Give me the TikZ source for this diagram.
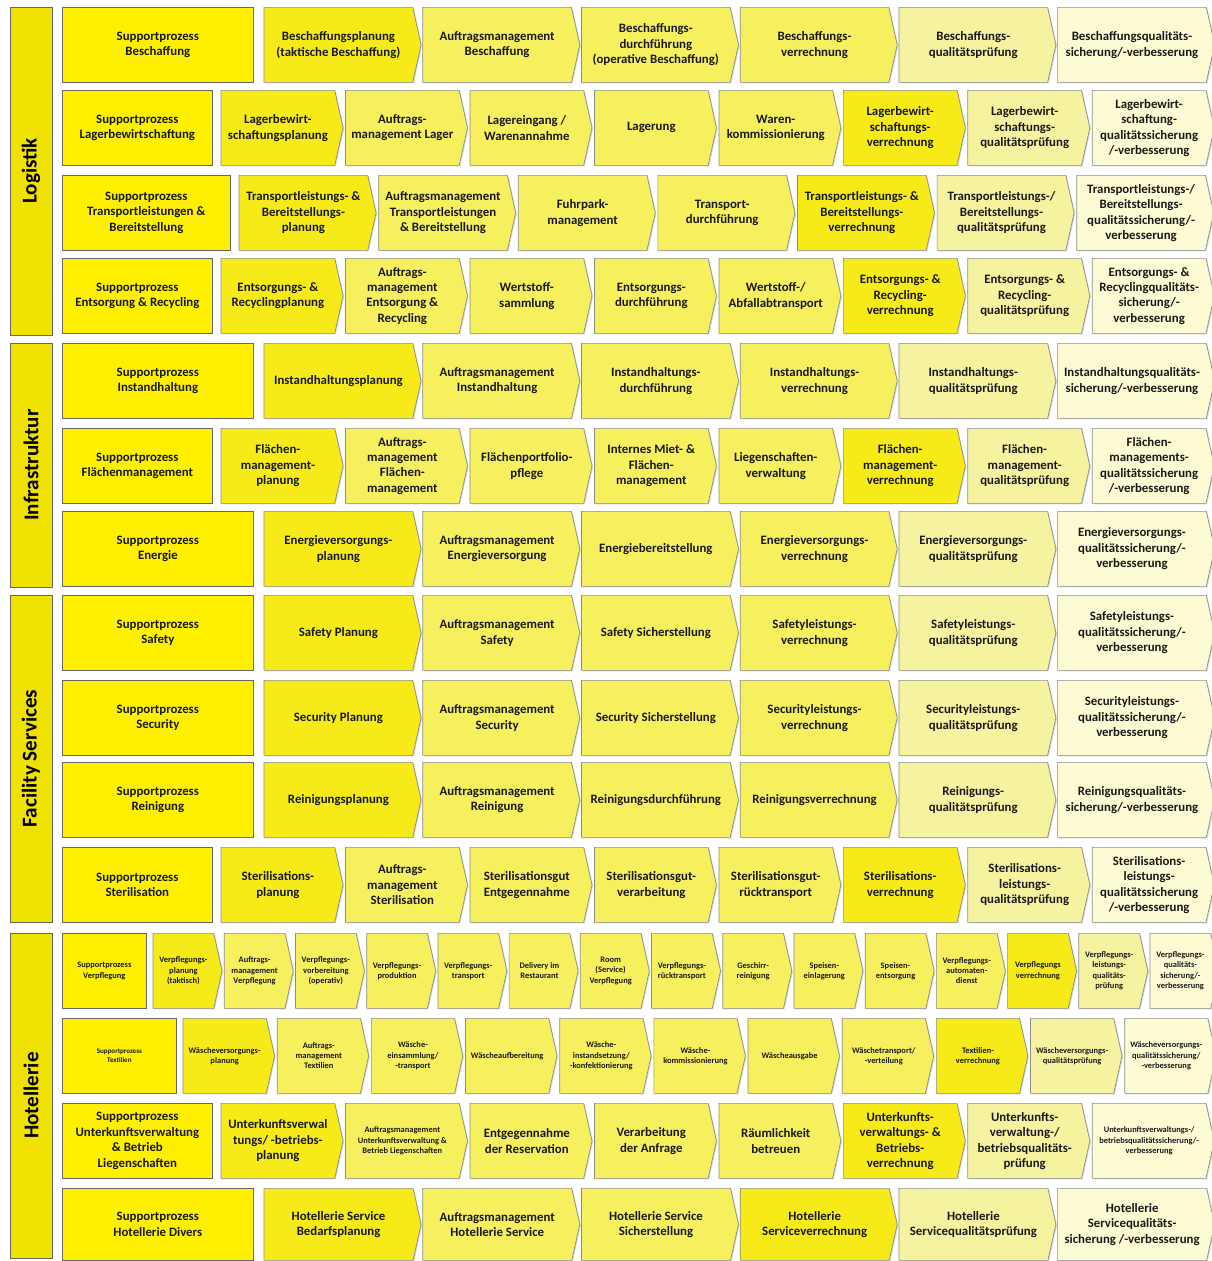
\documentclass[tikz,border=0pt]{standalone}
\usepackage{fontspec}
\setmainfont{Carlito}
\usetikzlibrary{shapes.symbols, positioning, shadows}
\definecolor{suppyellow}{RGB}{255,240,0}
\definecolor{baryellow}{RGB}{240,226,0}
\definecolor{planyellow}{RGB}{246,235,25}
\definecolor{runyellow}{RGB}{246,240,95}
\definecolor{checkyellow}{RGB}{246,243,160}
\definecolor{actyellow}{RGB}{253,251,212}
\newcommand{\boxfont}{\fontsize{7.3}{8.8}\selectfont\bfseries}
\newcommand{\smallboxfont}{\fontsize{4.8}{5.8}\selectfont\bfseries}
\newcommand{\tinyboxfont}{\fontsize{4}{5}\selectfont\bfseries}
\tikzstyle{bar} = [rectangle, rotate=90, minimum height=0.84cm, draw=black!60, fill=baryellow, font=\fontsize{12}{14}\selectfont\bfseries, drop shadow={shadow xshift=0.6pt, shadow yshift=-0.6pt, opacity=0.35}]
\tikzstyle{support} = [rectangle, minimum height=1.5cm, inner sep=1pt, align=center, draw=black!60, fill=suppyellow, text=black!90, font=\boxfont, anchor=north west, drop shadow={shadow xshift=0.6pt, shadow yshift=-0.6pt, opacity=0.35}]
\tikzstyle{chevron} = [signal, signal to=east, signal pointer angle=155, minimum height=1.5cm, inner sep=1pt, align=center, draw=black!45, text=black!90, font=\boxfont, drop shadow={shadow xshift=0.6pt, shadow yshift=-0.6pt, opacity=0.3}]
\tikzstyle{planfill} = [fill=planyellow]
\tikzstyle{runfill} = [fill=runyellow]
\tikzstyle{checkfill} = [fill=checkyellow]
\tikzstyle{actfill} = [fill=actyellow]
\tikzstyle{w6} = [minimum width=3.14cm]
\tikzstyle{w7} = [minimum width=2.74cm]
\tikzstyle{w8} = [minimum width=2.44cm]
\tikzstyle{w11} = [minimum width=1.83cm]
\tikzstyle{w15} = [minimum width=1.38cm]

\begin{document}
\begin{tikzpicture}
\useasboundingbox[fill=white] (0,0) rectangle (24.24,-25.22);

\node (logistik) [bar, minimum width=6.56cm] at (0.62,-3.42) {Logistik};
\node (infra) [bar, minimum width=4.88cm] at (0.62,-9.30) {Infrastruktur};
\node (facility) [bar, minimum width=6.54cm] at (0.62,-15.17) {Facility Services};
\node (hotel) [bar, minimum width=6.50cm] at (0.62,-21.91) {Hotellerie};

\node (sB) [support, minimum width=3.82cm] at (1.24,-0.14) {Supportprozess\\Beschaffung};
\node (B1) [chevron, w6, planfill, right=0.2cm of sB] {Beschaffungsplanung\\(taktische Beschaffung)};
\node (B2) [chevron, w6, runfill, right=0.02cm of B1] {Auftragsmanagement\\Beschaffung};
\node (B3) [chevron, w6, runfill, right=0.02cm of B2] {Beschaffungs-\\durchführung\\(operative Beschaffung)};
\node (B4) [chevron, w6, runfill, right=0.02cm of B3] {Beschaffungs-\\verrechnung};
\node (B5) [chevron, w6, checkfill, right=0.02cm of B4] {Beschaffungs-\\qualitätsprüfung};
\node (B6) [chevron, w6, actfill, right=0.02cm of B5] {Beschaffungsqualitäts-\\sicherung/-verbesserung};

\node (sL) [support, minimum width=3.0cm] at (1.24,-1.80) {Supportprozess\\Lagerbewirtschaftung};
\node (L1) [chevron, w8, planfill, right=0.16cm of sL] {Lagerbewirt-\\schaftungsplanung};
\node (L2) [chevron, w8, runfill, right=0.035cm of L1] {Auftrags-\\management Lager};
\node (L3) [chevron, w8, runfill, right=0.035cm of L2] {Lagereingang /\\Warenannahme};
\node (L4) [chevron, w8, runfill, right=0.035cm of L3] {Lagerung};
\node (L5) [chevron, w8, runfill, right=0.035cm of L4] {Waren-\\kommissionierung};
\node (L6) [chevron, w8, planfill, right=0.035cm of L5] {Lagerbewirt-\\schaftungs-\\verrechnung};
\node (L7) [chevron, w8, checkfill, right=0.035cm of L6] {Lagerbewirt-\\schaftungs-\\qualitätsprüfung};
\node (L8) [chevron, w8, actfill, right=0.035cm of L7] {Lagerbewirt-\\schaftung-\\qualitätssicherung\\/-verbesserung};

\node (sT) [support, minimum width=3.36cm] at (1.24,-3.50) {Supportprozess\\Transportleistungen \&\\Bereitstellung};
\node (T1) [chevron, w7, planfill, right=0.16cm of sT] {Transportleistungs- \&\\Bereitstellungs-\\planung};
\node (T2) [chevron, w7, runfill, right=0.038cm of T1] {Auftragsmanagement\\Transportleistungen\\\& Bereitstellung};
\node (T3) [chevron, w7, runfill, right=0.038cm of T2] {Fuhrpark-\\management};
\node (T4) [chevron, w7, runfill, right=0.038cm of T3] {Transport-\\durchführung};
\node (T5) [chevron, w7, planfill, right=0.038cm of T4] {Transportleistungs- \&\\Bereitstellungs-\\verrechnung};
\node (T6) [chevron, w7, checkfill, right=0.038cm of T5] {Transportleistungs-/\\Bereitstellungs-\\qualitätsprüfung};
\node (T7) [chevron, w7, actfill, right=0.038cm of T6] {Transportleistungs-/\\Bereitstellungs-\\qualitätssicherung/-\\verbesserung};

\node (sE) [support, minimum width=3.0cm] at (1.24,-5.16) {Supportprozess\\Entsorgung \& Recycling};
\node (E1) [chevron, w8, planfill, right=0.16cm of sE] {Entsorgungs- \&\\Recyclingplanung};
\node (E2) [chevron, w8, runfill, right=0.035cm of E1] {Auftrags-\\management\\Entsorgung \&\\Recycling};
\node (E3) [chevron, w8, runfill, right=0.035cm of E2] {Wertstoff-\\sammlung};
\node (E4) [chevron, w8, runfill, right=0.035cm of E3] {Entsorgungs-\\durchführung};
\node (E5) [chevron, w8, runfill, right=0.035cm of E4] {Wertstoff-/\\Abfallabtransport};
\node (E6) [chevron, w8, planfill, right=0.035cm of E5] {Entsorgungs- \&\\Recycling-\\verrechnung};
\node (E7) [chevron, w8, checkfill, right=0.035cm of E6] {Entsorgungs- \&\\Recycling-\\qualitätsprüfung};
\node (E8) [chevron, w8, actfill, right=0.035cm of E7] {Entsorgungs- \&\\Recyclingqualitäts-\\sicherung/-\\verbesserung};

\node (sI) [support, minimum width=3.82cm] at (1.24,-6.86) {Supportprozess\\Instandhaltung};
\node (I1) [chevron, w6, planfill, right=0.2cm of sI] {Instandhaltungsplanung};
\node (I2) [chevron, w6, runfill, right=0.02cm of I1] {Auftragsmanagement\\Instandhaltung};
\node (I3) [chevron, w6, runfill, right=0.02cm of I2] {Instandhaltungs-\\durchführung};
\node (I4) [chevron, w6, runfill, right=0.02cm of I3] {Instandhaltungs-\\verrechnung};
\node (I5) [chevron, w6, checkfill, right=0.02cm of I4] {Instandhaltungs-\\qualitätsprüfung};
\node (I6) [chevron, w6, actfill, right=0.02cm of I5] {Instandhaltungsqualitäts-\\sicherung/-verbesserung};

\node (sF) [support, minimum width=3.0cm] at (1.24,-8.56) {Supportprozess\\Flächenmanagement};
\node (F1) [chevron, w8, planfill, right=0.16cm of sF] {Flächen-\\management-\\planung};
\node (F2) [chevron, w8, runfill, right=0.035cm of F1] {Auftrags-\\management\\Flächen-\\management};
\node (F3) [chevron, w8, runfill, right=0.035cm of F2] {Flächenportfolio-\\pflege};
\node (F4) [chevron, w8, runfill, right=0.035cm of F3] {Internes Miet- \&\\Flächen-\\management};
\node (F5) [chevron, w8, runfill, right=0.035cm of F4] {Liegenschaften-\\verwaltung};
\node (F6) [chevron, w8, planfill, right=0.035cm of F5] {Flächen-\\management-\\verrechnung};
\node (F7) [chevron, w8, checkfill, right=0.035cm of F6] {Flächen-\\management-\\qualitätsprüfung};
\node (F8) [chevron, w8, actfill, right=0.035cm of F7] {Flächen-\\managements-\\qualitätssicherung\\/-verbesserung};

\node (sN) [support, minimum width=3.82cm] at (1.24,-10.22) {Supportprozess\\Energie};
\node (N1) [chevron, w6, planfill, right=0.2cm of sN] {Energieversorgungs-\\planung};
\node (N2) [chevron, w6, runfill, right=0.02cm of N1] {Auftragsmanagement\\Energieversorgung};
\node (N3) [chevron, w6, runfill, right=0.02cm of N2] {Energiebereitstellung};
\node (N4) [chevron, w6, runfill, right=0.02cm of N3] {Energieversorgungs-\\verrechnung};
\node (N5) [chevron, w6, checkfill, right=0.02cm of N4] {Energieversorgungs-\\qualitätsprüfung};
\node (N6) [chevron, w6, actfill, right=0.02cm of N5] {Energieversorgungs-\\qualitätssicherung/-\\verbesserung};

\node (sSa) [support, minimum width=3.82cm] at (1.24,-11.90) {Supportprozess\\Safety};
\node (Sa1) [chevron, w6, planfill, right=0.2cm of sSa] {Safety Planung};
\node (Sa2) [chevron, w6, runfill, right=0.02cm of Sa1] {Auftragsmanagement\\Safety};
\node (Sa3) [chevron, w6, runfill, right=0.02cm of Sa2] {Safety Sicherstellung};
\node (Sa4) [chevron, w6, runfill, right=0.02cm of Sa3] {Safetyleistungs-\\verrechnung};
\node (Sa5) [chevron, w6, checkfill, right=0.02cm of Sa4] {Safetyleistungs-\\qualitätsprüfung};
\node (Sa6) [chevron, w6, actfill, right=0.02cm of Sa5] {Safetyleistungs-\\qualitätssicherung/-\\verbesserung};

\node (sSe) [support, minimum width=3.82cm] at (1.24,-13.60) {Supportprozess\\Security};
\node (Se1) [chevron, w6, planfill, right=0.2cm of sSe] {Security Planung};
\node (Se2) [chevron, w6, runfill, right=0.02cm of Se1] {Auftragsmanagement\\Security};
\node (Se3) [chevron, w6, runfill, right=0.02cm of Se2] {Security Sicherstellung};
\node (Se4) [chevron, w6, runfill, right=0.02cm of Se3] {Securityleistungs-\\verrechnung};
\node (Se5) [chevron, w6, checkfill, right=0.02cm of Se4] {Securityleistungs-\\qualitätsprüfung};
\node (Se6) [chevron, w6, actfill, right=0.02cm of Se5] {Securityleistungs-\\qualitätssicherung/-\\verbesserung};

\node (sR) [support, minimum width=3.82cm] at (1.24,-15.24) {Supportprozess\\Reinigung};
\node (R1) [chevron, w6, planfill, right=0.2cm of sR] {Reinigungsplanung};
\node (R2) [chevron, w6, runfill, right=0.02cm of R1] {Auftragsmanagement\\Reinigung};
\node (R3) [chevron, w6, runfill, right=0.02cm of R2] {Reinigungsdurchführung};
\node (R4) [chevron, w6, runfill, right=0.02cm of R3] {Reinigungsverrechnung};
\node (R5) [chevron, w6, checkfill, right=0.02cm of R4] {Reinigungs-\\qualitätsprüfung};
\node (R6) [chevron, w6, actfill, right=0.02cm of R5] {Reinigungsqualitäts-\\sicherung/-verbesserung};

\node (sSt) [support, minimum width=3.0cm] at (1.24,-16.94) {Supportprozess\\Sterilisation};
\node (St1) [chevron, w8, planfill, right=0.16cm of sSt] {Sterilisations-\\planung};
\node (St2) [chevron, w8, runfill, right=0.035cm of St1] {Auftrags-\\management\\Sterilisation};
\node (St3) [chevron, w8, runfill, right=0.035cm of St2] {Sterilisationsgut\\Entgegennahme};
\node (St4) [chevron, w8, runfill, right=0.035cm of St3] {Sterilisationsgut-\\verarbeitung};
\node (St5) [chevron, w8, runfill, right=0.035cm of St4] {Sterilisationsgut-\\rücktransport};
\node (St6) [chevron, w8, planfill, right=0.035cm of St5] {Sterilisations-\\verrechnung};
\node (St7) [chevron, w8, checkfill, right=0.035cm of St6] {Sterilisations-\\leistungs-\\qualitätsprüfung};
\node (St8) [chevron, w8, actfill, right=0.035cm of St7] {Sterilisations-\\leistungs-\\qualitätssicherung\\/-verbesserung};

\node (sV) [support, minimum width=1.68cm, font=\smallboxfont] at (1.24,-18.66) {Supportprozess\\Verpflegung};
\node (V1) [chevron, w15, planfill, font=\smallboxfont, right=0.12cm of sV] {Verpflegungs-\\planung\\(taktisch)};
\node (V2) [chevron, w15, runfill, font=\smallboxfont, right=0.03cm of V1] {Auftrags-\\management\\Verpflegung};
\node (V3) [chevron, w15, runfill, font=\smallboxfont, right=0.03cm of V2] {Verpflegungs-\\vorbereitung\\(operativ)};
\node (V4) [chevron, w15, runfill, font=\smallboxfont, right=0.03cm of V3] {Verpflegungs-\\produktion};
\node (V5) [chevron, w15, runfill, font=\smallboxfont, right=0.03cm of V4] {Verpflegungs-\\transport};
\node (V6) [chevron, w15, runfill, font=\smallboxfont, right=0.03cm of V5] {Delivery im\\Restaurant};
\node (V7) [chevron, w15, runfill, font=\smallboxfont, right=0.03cm of V6] {Room\\(Service)\\Verpflegung};
\node (V8) [chevron, w15, runfill, font=\smallboxfont, right=0.03cm of V7] {Verpflegungs-\\rücktransport};
\node (V9) [chevron, w15, runfill, font=\smallboxfont, right=0.03cm of V8] {Geschirr-\\reinigung};
\node (V10) [chevron, w15, runfill, font=\smallboxfont, right=0.03cm of V9] {Speisen-\\einlagerung};
\node (V11) [chevron, w15, runfill, font=\smallboxfont, right=0.03cm of V10] {Speisen-\\entsorgung};
\node (V12) [chevron, w15, runfill, font=\smallboxfont, right=0.03cm of V11] {Verpflegungs-\\automaten-\\dienst};
\node (V13) [chevron, w15, planfill, font=\smallboxfont, right=0.03cm of V12] {Verpflegungs\\verrechnung};
\node (V14) [chevron, w15, checkfill, font=\smallboxfont, right=0.03cm of V13] {Verpflegungs-\\leistungs-\\qualitäts-\\prüfung};
\node (V15) [chevron, w15, actfill, font=\smallboxfont, right=0.03cm of V14] {Verpflegungs-\\qualitäts-\\sicherung/-\\verbesserung};

\node (sX) [support, minimum width=2.28cm, font=\tinyboxfont] at (1.24,-20.36) {Supportprozess\\Textilien};
\node (X1) [chevron, w11, planfill, font=\smallboxfont, right=0.12cm of sX] {Wäscheversorgungs-\\planung};
\node (X2) [chevron, w11, runfill, font=\smallboxfont, right=0.039cm of X1] {Auftrags-\\management\\Textilien};
\node (X3) [chevron, w11, runfill, font=\smallboxfont, right=0.039cm of X2] {Wäsche-\\einsammlung/\\-transport};
\node (X4) [chevron, w11, runfill, font=\smallboxfont, right=0.039cm of X3] {Wäscheaufbereitung};
\node (X5) [chevron, w11, runfill, font=\smallboxfont, right=0.039cm of X4] {Wäsche-\\instandsetzung/\\-konfektionierung};
\node (X6) [chevron, w11, runfill, font=\smallboxfont, right=0.039cm of X5] {Wäsche-\\kommissionierung};
\node (X7) [chevron, w11, runfill, font=\smallboxfont, right=0.039cm of X6] {Wäscheausgabe};
\node (X8) [chevron, w11, runfill, font=\smallboxfont, right=0.039cm of X7] {Wäschetransport/\\-verteilung};
\node (X9) [chevron, w11, planfill, font=\smallboxfont, right=0.039cm of X8] {Textilien-\\verrechnung};
\node (X10) [chevron, w11, checkfill, font=\smallboxfont, right=0.039cm of X9] {Wäscheversorgungs-\\qualitätsprüfung};
\node (X11) [chevron, w11, actfill, font=\smallboxfont, right=0.039cm of X10] {Wäscheversorgungs-\\qualitätssicherung/\\-verbesserung};

\node (sU) [support, minimum width=3.0cm] at (1.24,-22.06) {Supportprozess\\Unterkunftsverwaltung\\\& Betrieb\\Liegenschaften};
\node (U1) [chevron, w8, planfill, right=0.16cm of sU] {Unterkunftsverwal\\tungs/ -betriebs-\\planung};
\node (U2) [chevron, w8, runfill, font=\smallboxfont, right=0.035cm of U1] {Auftragsmanagement\\Unterkunftsverwaltung \&\\Betrieb Liegenschaften};
\node (U3) [chevron, w8, runfill, right=0.035cm of U2] {Entgegennahme\\der Reservation};
\node (U4) [chevron, w8, runfill, right=0.035cm of U3] {Verarbeitung\\der Anfrage};
\node (U5) [chevron, w8, runfill, right=0.035cm of U4] {Räumlichkeit\\betreuen};
\node (U6) [chevron, w8, planfill, right=0.035cm of U5] {Unterkunfts-\\verwaltungs- \&\\Betriebs-\\verrechnung};
\node (U7) [chevron, w8, checkfill, right=0.035cm of U6] {Unterkunfts-\\verwaltung-/\\betriebsqualitäts-\\prüfung};
\node (U8) [chevron, w8, actfill, font=\smallboxfont, right=0.035cm of U7] {Unterkunftsverwaltungs-/\\betriebsqualitätssicherung/-\\verbesserung};

\node (sD) [support, minimum width=3.82cm, minimum height=1.44cm] at (1.24,-23.76) {Supportprozess\\Hotellerie Divers};
\node (D1) [chevron, w6, planfill, minimum height=1.44cm, right=0.2cm of sD] {Hotellerie Service\\Bedarfsplanung};
\node (D2) [chevron, w6, runfill, minimum height=1.44cm, right=0.02cm of D1] {Auftragsmanagement\\Hotellerie Service};
\node (D3) [chevron, w6, runfill, minimum height=1.44cm, right=0.02cm of D2] {Hotellerie Service\\Sicherstellung};
\node (D4) [chevron, w6, planfill, minimum height=1.44cm, right=0.02cm of D3] {Hotellerie\\Serviceverrechnung};
\node (D5) [chevron, w6, checkfill, minimum height=1.44cm, right=0.02cm of D4] {Hotellerie\\Servicequalitätsprüfung};
\node (D6) [chevron, w6, actfill, minimum height=1.44cm, right=0.02cm of D5] {Hotellerie\\Servicequalitäts-\\sicherung /-verbesserung};
\end{tikzpicture}
\end{document}
